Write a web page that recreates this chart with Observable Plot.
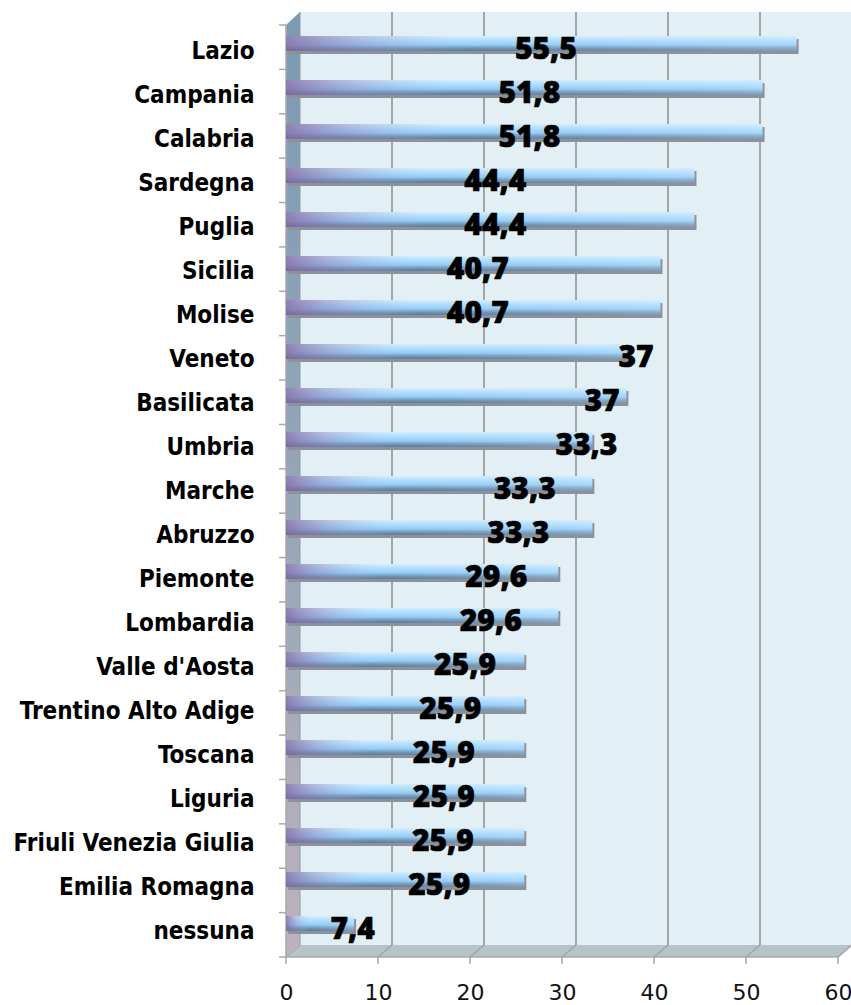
<!DOCTYPE html>
<html>
<head>
<meta charset="utf-8">
<script src="https://cdn.jsdelivr.net/npm/d3@7"></script>
<script src="https://cdn.jsdelivr.net/npm/@observablehq/plot@0.6"></script>
<style>
  body { margin: 0; background: #fff; }
  #chart svg { display: block; }
</style>
</head>
<body>
<div id="chart"></div>
<script>
const regions = ["Lazio","Campania","Calabria","Sardegna","Puglia","Sicilia","Molise","Veneto","Basilicata","Umbria","Marche","Abruzzo","Piemonte","Lombardia","Valle d'Aosta","Trentino Alto Adige","Toscana","Liguria","Friuli Venezia Giulia","Emilia Romagna","nessuna"];
const values = [55.5,51.8,51.8,44.4,44.4,40.7,40.7,37,37,33.3,33.3,33.3,29.6,29.6,25.9,25.9,25.9,25.9,25.9,25.9,7.4];
// where each value label sits along the value axis
const labelAt = [28.2,26.4,26.4,22.7,22.7,20.8,20.8,38.0,34.3,32.6,25.9,25.2,22.8,22.2,19.4,17.8,17.1,17.1,17.0,16.6,7.2];
const xTicks = [0,10,20,30,40,50,60];

const data = regions.map((r, i) => ({region: r, value: values[i], labelAt: labelAt[i]}));
const fmt = v => String(v).replace(".", ",");

const depthX = 14, depthY = 12;

function backdrop(index, scales, vals, dim) {
  const top = dim.marginTop, bottom = dim.height - dim.marginBottom;
  const left = dim.marginLeft, right = dim.width - dim.marginRight;
  const xs = typeof scales.x === "function" ? scales.x
    : v => left + (v / 60) * (right - left);
  const x0 = xs(0), x60 = xs(60);
  const g = d3.create("svg:g");
  const defs = g.append("defs");
  const side = defs.append("linearGradient").attr("id", "sideGrad")
    .attr("x1", 0).attr("y1", 0).attr("x2", 0).attr("y2", 1);
  side.append("stop").attr("offset", 0).attr("stop-color", "#7b9ab3");
  side.append("stop").attr("offset", 0.6).attr("stop-color", "#9aa8b8");
  side.append("stop").attr("offset", 1).attr("stop-color", "#bfb2bd");
  const bv = defs.append("linearGradient").attr("id", "barV")
    .attr("x1", 0).attr("y1", 0).attr("x2", 0).attr("y2", 1);
  bv.append("stop").attr("offset", 0).attr("stop-color", "#d6eefd");
  bv.append("stop").attr("offset", 0.3).attr("stop-color", "#b0defd");
  bv.append("stop").attr("offset", 0.6).attr("stop-color", "#94cbf3");
  bv.append("stop").attr("offset", 0.8).attr("stop-color", "#7096b9");
  bv.append("stop").attr("offset", 1).attr("stop-color", "#5c7894");
  const bh = defs.append("linearGradient").attr("id", "barH")
    .attr("x1", 0).attr("y1", 0).attr("x2", 1).attr("y2", 0);
  bh.append("stop").attr("offset", 0).attr("stop-color", "#84679f").attr("stop-opacity", 0.8);
  bh.append("stop").attr("offset", 0.12).attr("stop-color", "#9080b8").attr("stop-opacity", 0.45);
  bh.append("stop").attr("offset", 0.35).attr("stop-color", "#a9c8f0").attr("stop-opacity", 0);
  bh.append("stop").attr("offset", 1).attr("stop-color", "#d0eaff").attr("stop-opacity", 0.3);

  // back wall
  g.append("rect")
    .attr("x", x0 + depthX).attr("y", top - depthY - 1)
    .attr("width", dim.width - (x0 + depthX)).attr("height", bottom - top + 1)
    .attr("fill", "#e2f0f6");
  // back gridlines
  for (const k of xTicks.slice(1, -1)) {
    g.append("line")
      .attr("x1", xs(k) + depthX).attr("x2", xs(k) + depthX)
      .attr("y1", top - depthY - 1).attr("y2", bottom - depthY)
      .attr("stroke", "#a4a4a4").attr("stroke-width", 2);
  }
  // floor
  g.append("polygon")
    .attr("points", [[x0, bottom], [x60, bottom], [x60 + depthX, bottom - depthY], [x0 + depthX, bottom - depthY]].map(p => p.join(",")).join(" "))
    .attr("fill", "#b6c3c8");
  for (const k of xTicks) {
    g.append("line")
      .attr("x1", xs(k)).attr("y1", bottom)
      .attr("x2", xs(k) + depthX).attr("y2", bottom - depthY)
      .attr("stroke", "#a2a2a2").attr("stroke-width", 1.5);
    // bottom ticks
    g.append("line")
      .attr("x1", xs(k)).attr("x2", xs(k))
      .attr("y1", bottom).attr("y2", bottom + 7)
      .attr("stroke", "#a8a8a8").attr("stroke-width", 1.5);
  }
  g.append("line").attr("x1", x0).attr("x2", x60).attr("y1", bottom).attr("y2", bottom)
    .attr("stroke", "#a8a8a8").attr("stroke-width", 1.5);
  // side wall
  g.append("polygon")
    .attr("points", [[x0, bottom], [x0, top], [x0 + depthX, top - depthY - 1], [x0 + depthX, bottom - depthY]].map(p => p.join(",")).join(" "))
    .attr("fill", "url(#sideGrad)");
  g.append("line").attr("x1", x0 + depthX).attr("x2", x0 + depthX)
    .attr("y1", top - depthY - 1).attr("y2", bottom - depthY)
    .attr("stroke", "#8e9aa6").attr("stroke-width", 1);
  // left axis line and category ticks
  g.append("line").attr("x1", x0).attr("x2", x0).attr("y1", top).attr("y2", bottom)
    .attr("stroke", "#a8a8a8").attr("stroke-width", 1.5);
  const n = regions.length, step = (bottom - top) / n;
  for (let i = 0; i <= n; i++) {
    const y = top + i * step;
    g.append("line").attr("x1", x0 - 7).attr("x2", x0).attr("y1", y).attr("y2", y)
      .attr("stroke", "#a8a8a8").attr("stroke-width", 1.5);
  }
  return g.node();
}

const bandInset = {insetTop: 7, insetBottom: 22};

const chart = Plot.plot({
  width: 851,
  height: 1005,
  marginTop: 25,
  marginBottom: 48,
  marginLeft: 286,
  marginRight: 13,
  style: {background: "#fff", overflow: "visible"},
  x: {domain: [0, 60]},
  y: {domain: regions, padding: 0},
  marks: [
    backdrop,
    Plot.barX(data, {x: "value", y: "region", dx: 2, dy: 3, ...bandInset, fill: "#8d919c"}),
    Plot.barX(data, {x: "value", y: "region", ...bandInset, fill: "url(#barV)"}),
    Plot.barX(data, {x: "value", y: "region", ...bandInset, fill: "url(#barH)"}),
    Plot.text(data, {
      x: "labelAt", y: "region", text: d => fmt(d.value), dy: -2,
      fontSize: 30, fontWeight: 800, fontFamily: "'Open Sans', sans-serif",
      fill: "#000", stroke: "#000", strokeWidth: 0.6
    }),
    Plot.axisY({
      tickSize: 0, tickPadding: 32, label: null,
      fontSize: 24, fontWeight: "bold",
      fontFamily: "'DejaVu Sans Condensed', 'Liberation Sans Narrow', sans-serif",
      color: "#000"
    }),
    Plot.axisX({
      ticks: xTicks, tickSize: 0, tickPadding: 27, label: null,
      tickFormat: d => String(d),
      fontSize: 22, fontFamily: "'DejaVu Sans', sans-serif", color: "#111"
    })
  ]
});
document.getElementById("chart").append(chart);
</script>
</body>
</html>
